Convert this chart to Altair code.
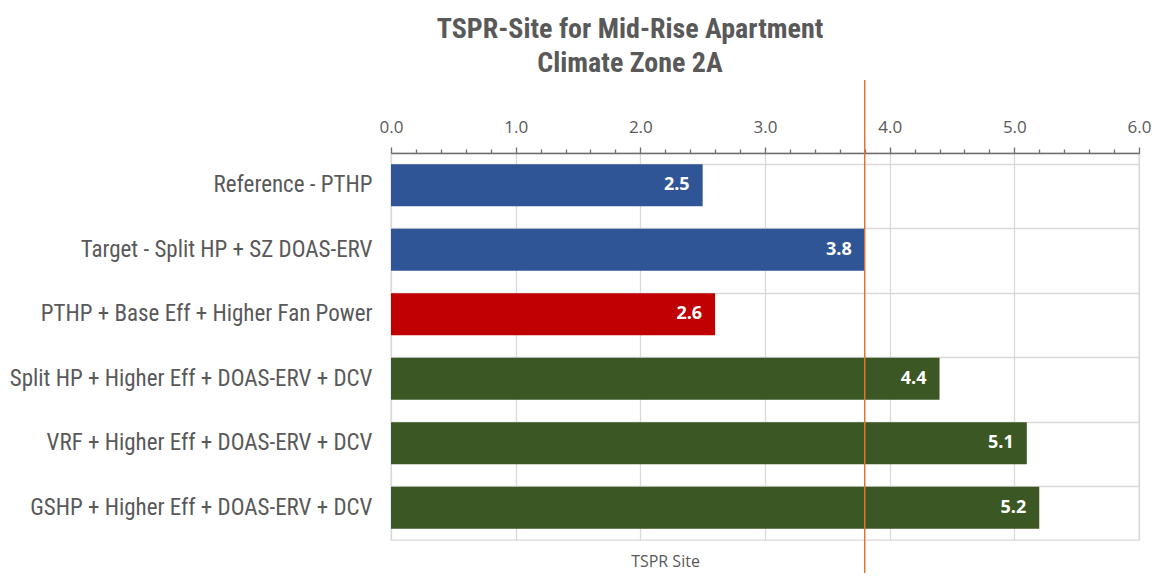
import altair as alt
import pandas as pd

categories = [
    "Reference - PTHP",
    "Target - Split HP + SZ DOAS-ERV",
    "PTHP + Base Eff + Higher Fan Power",
    "Split HP + Higher Eff + DOAS-ERV + DCV",
    "VRF + Higher Eff + DOAS-ERV + DCV",
    "GSHP + Higher Eff + DOAS-ERV + DCV",
]
values = [2.5, 3.8, 2.6, 4.4, 5.1, 5.2]
bar_colors = ["#2F5597", "#2F5597", "#C00000", "#3A5724", "#3A5724", "#3A5724"]
target_value = [3.8]
tick_values = [round(i * 0.2, 1) for i in range(31)]

df = pd.DataFrame({"cat": categories, "val": values, "color": bar_colors})
df_t = pd.DataFrame({"t": target_value})

NARROW = "Liberation Sans Narrow, Roboto Condensed, DejaVu Sans Condensed, sans-serif"
BODY = "Open Sans, Lato, sans-serif"
minor = "abs(datum.value - round(datum.value)) > 0.01"

x_scale = alt.Scale(domain=[0, 6], nice=False, zero=True)
y_enc = alt.Y(
    "cat:N",
    sort=categories,
    scale=alt.Scale(paddingInner=0.35, paddingOuter=0.175),
    axis=alt.Axis(
        title=None,
        orient="left",
        labelFont=NARROW,
        labelFontSize=23,
        labelColor="#595959",
        labelPadding=19,
        ticks=False,
        domain=False,
        grid=True,
        bandPosition=0,
        gridColor="#D9D9D9",
        gridWidth=1.3,
        labelLimit=600,
    ),
)

bars = alt.Chart(df).mark_bar().encode(
    x=alt.X(
        "val:Q",
        scale=x_scale,
        axis=alt.Axis(
            orient="top",
            title=None,
            values=tick_values,
            labelExpr="abs(datum.value - round(datum.value)) < 0.01 ? format(datum.value, '.1f') : ''",
            labelFont=BODY,
            labelFontSize=17,
            labelColor="#595959",
            labelPadding=11,
            labelFlush=False,
            labelOverlap=False,
            domainColor="#6E6E6E",
            domainWidth=1.3,
            tickColor="#6E6E6E",
            tickWidth=1.3,
            tickSize={"condition": {"test": minor, "value": 4}, "value": 6},
            grid=True,
            gridColor="#D9D9D9",
            gridWidth=1.3,
            gridOpacity={"condition": {"test": minor, "value": 0}, "value": 1},
        ),
    ),
    y=y_enc,
    color=alt.Color("color:N", scale=None),
)

labels = alt.Chart(df).mark_text(
    align="right", baseline="middle", dx=-13, color="white",
    font=BODY, fontSize=18, fontWeight="bold",
).encode(
    x=alt.X("val:Q", scale=x_scale, axis=None),
    y=alt.Y("cat:N", sort=categories),
    text=alt.Text("val:Q", format=".1f"),
)

rule = alt.Chart(df_t).mark_rule(color="#E0752D", strokeWidth=1.5).encode(
    x=alt.X(
        "t:Q",
        scale=x_scale,
        axis=alt.Axis(
            orient="bottom",
            title="TSPR Site",
            labels=False,
            ticks=False,
            domain=False,
            grid=False,
            titleFont=BODY,
            titleFontSize=16,
            titleFontWeight="normal",
            titleColor="#595959",
            titleX=274,
            titleY=21,
            titleBaseline="middle",
            titleAlign="center",
        ),
    ),
    y=alt.value(-73),
    y2=alt.value(420),
)

chart = (
    alt.layer(bars, labels, rule)
    .resolve_axis(x="independent")
    .properties(
        width=748,
        height=387,
        autosize=alt.AutoSizeParams(type="none"),
        padding={"left": 383, "top": 145, "right": 12, "bottom": 33},
        title=alt.TitleParams(
            text=["TSPR-Site for Mid-Rise Apartment", "Climate Zone 2A"],
            font=NARROW,
            fontSize=28,
            fontWeight="bold",
            color="#595959",
            anchor="middle",
            dx=-135,
            lineHeight=34,
            offset=1,
        ),
    )
    .configure_view(stroke="#D9D9D9", strokeWidth=1.3)
)

chart.save("out.html", embed_options={"renderer": "svg", "actions": False})
